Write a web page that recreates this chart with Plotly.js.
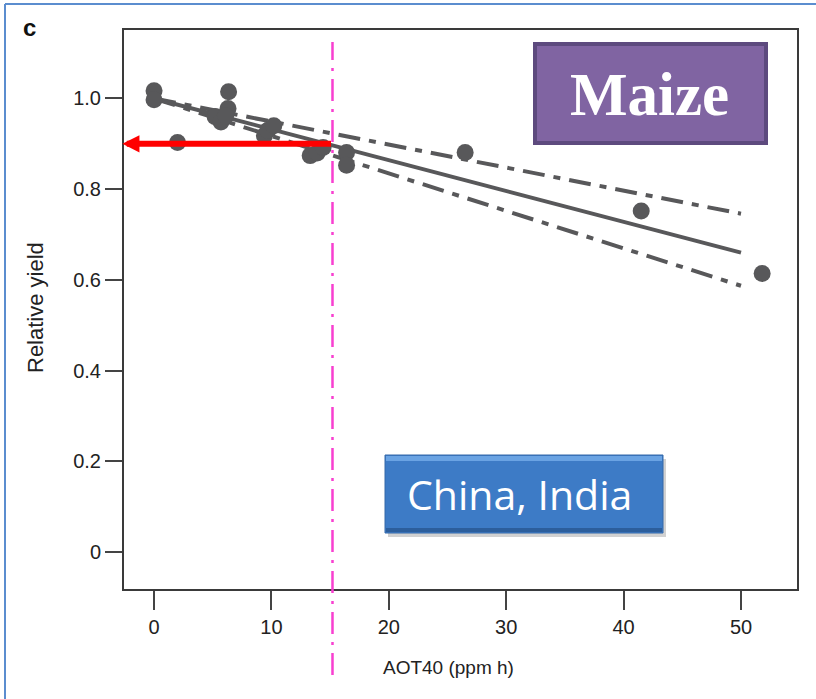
<!DOCTYPE html>
<html>
<head>
<meta charset="utf-8">
<script src="https://cdn.plot.ly/plotly-3.0.1.min.js"></script>
<style>
  html, body { margin: 0; padding: 0; background: #ffffff; }
  #chart { width: 816px; height: 699px; }
</style>
</head>
<body>
<div id="chart"></div>
<script>
// ---- data ----
const obsX = [0, 0, 2.0, 5.2, 5.7, 6.35, 6.3, 6.1, 9.4, 9.7, 10.2, 13.3, 13.9, 14.4, 16.4, 16.4, 26.5, 41.5, 51.8];
const obsY = [1.017, 0.997, 0.903, 0.960, 0.948, 1.015, 0.978, 0.962, 0.918, 0.930, 0.940, 0.874, 0.880, 0.892, 0.881, 0.853, 0.881, 0.752, 0.614];

const fitX   = [0, 50];
const fitY   = [1.0, 0.660];
const upperY = [1.0, 0.746];
const lowerY = [1.0, 0.587];

const thresholdX = 15.2;   // AOT40 threshold (magenta line)
const thresholdY = 0.9;    // relative yield at threshold (red arrow)

const xTickVals = [0, 10, 20, 30, 40, 50];
const yTickVals = [0, 0.2, 0.4, 0.6, 0.8, 1.0];
const yTickText = ['0', '0.2', '0.4', '0.6', '0.8', '1.0'];

const panelLabel = 'c';
const cropLabel = 'Maize';
const regionLabel = 'China, India';
const xTitle = 'AOT40 (ppm h)';
const yTitle = 'Relative yield';

// ---- geometry helpers (page pixels -> paper fraction) ----
const PL = 124, PR = 797, PT = 30, PB = 589;
const PW = PR - PL, PH = PB - PT;
const px = x => (x - PL) / PW;
const py = y => (PB - y) / PH;

const grey = '#58585a';
const FONT = '"Liberation Sans", Arial, Helvetica, sans-serif';

const traces = [
  { x: fitX, y: upperY, mode: 'lines', line: { color: grey, width: 4, dash: '22px,9px,7px,9px' }, hoverinfo: 'skip' },
  { x: fitX, y: lowerY, mode: 'lines', line: { color: grey, width: 4, dash: '22px,9px,7px,9px' }, hoverinfo: 'skip' },
  { x: fitX, y: fitY, mode: 'lines', line: { color: grey, width: 4 }, hoverinfo: 'skip' },
  { x: obsX, y: obsY, mode: 'markers', marker: { color: grey, size: 17, line: { width: 0 } } }
];

const shapes = [
  // outer slide frame (top and left visible)
  { type: 'line', xref: 'paper', yref: 'paper', x0: px(5), x1: px(820), y0: py(4), y1: py(4), line: { color: '#5b8dcf', width: 2 } },
  { type: 'line', xref: 'paper', yref: 'paper', x0: px(5), x1: px(5), y0: py(4), y1: py(703), line: { color: '#5b8dcf', width: 2 } },
  // magenta threshold line
  { type: 'line', xref: 'x', yref: 'paper', x0: thresholdX, x1: thresholdX, y0: py(675), y1: py(42), line: { color: '#f83fd0', width: 2.5, dash: '22px,8px,3px,8px' } },
  // Maize box
  { type: 'rect', xref: 'paper', yref: 'paper', x0: px(535), x1: px(766), y0: py(143), y1: py(44), fillcolor: '#8064a2', line: { color: '#5d4a7e', width: 4 } },
  // China, India box: shadow, body, bevels
  { type: 'rect', xref: 'paper', yref: 'paper', x0: px(388), x1: px(666), y0: py(537), y1: py(459), fillcolor: 'rgba(0,0,0,0.18)', line: { width: 0 } },
  { type: 'rect', xref: 'paper', yref: 'paper', x0: px(385), x1: px(663), y0: py(533), y1: py(455), fillcolor: '#3d7bc6', line: { color: '#3568a8', width: 1 } },
  { type: 'rect', xref: 'paper', yref: 'paper', x0: px(386), x1: px(662), y0: py(461), y1: py(456), fillcolor: '#6aa3e3', line: { width: 0 } },
  { type: 'rect', xref: 'paper', yref: 'paper', x0: px(386), x1: px(662), y0: py(532), y1: py(528), fillcolor: '#2c5e9c', line: { width: 0 } }
];

const annotations = [
  { xref: 'paper', yref: 'paper', x: px(29), y: py(28), text: '<b>' + panelLabel + '</b>', showarrow: false,
    font: { family: FONT, size: 24, color: '#111' }, xanchor: 'center', yanchor: 'middle' },
  { xref: 'paper', yref: 'paper', x: px(649), y: py(95), text: '<b>' + cropLabel + '</b>', showarrow: false,
    font: { family: '"Liberation Serif", "Times New Roman", serif', size: 61, color: '#ffffff' }, xanchor: 'center', yanchor: 'middle' },
  { xref: 'paper', yref: 'paper', x: px(519), y: py(494), text: regionLabel, showarrow: false,
    font: { family: '"Open Sans", "Noto Sans", sans-serif', size: 41, color: '#ffffff' }, xanchor: 'center', yanchor: 'middle' },
  { xref: 'paper', yref: 'paper', x: px(448), y: py(667), text: xTitle, showarrow: false,
    font: { family: FONT, size: 19, color: '#222' }, xanchor: 'center', yanchor: 'middle' },
  { xref: 'paper', yref: 'paper', x: px(35), y: py(308), text: yTitle, showarrow: false, textangle: -90,
    font: { family: FONT, size: 22, color: '#222' }, xanchor: 'center', yanchor: 'middle' },
  // red arrow from threshold to yield axis
  { xref: 'x', yref: 'y', x: -2.7, y: thresholdY, axref: 'x', ayref: 'y', ax: thresholdX, ay: thresholdY,
    text: '', showarrow: true, arrowhead: 2, arrowsize: 0.57, arrowwidth: 6, arrowcolor: '#ff0000', standoff: 0 }
];

const layout = {
  width: 816, height: 699,
  margin: { l: PL, r: 816 - PR, t: PT, b: 699 - PB, pad: 0 },
  paper_bgcolor: '#ffffff', plot_bgcolor: '#ffffff',
  showlegend: false,
  xaxis: {
    range: [-2.56, 54.77], tickvals: xTickVals, ticks: 'outside', ticklen: 19, tickwidth: 2, tickcolor: '#444',
    showline: true, linecolor: '#3a3a3a', linewidth: 2, mirror: true, showgrid: false, zeroline: false,
    tickfont: { family: FONT, size: 20, color: '#222' }
  },
  yaxis: {
    range: [-0.0816, 1.151], tickvals: yTickVals, ticktext: yTickText, ticks: 'outside', ticklen: 17, tickwidth: 2, tickcolor: '#444',
    showline: true, linecolor: '#3a3a3a', linewidth: 2, mirror: true, showgrid: false, zeroline: false,
    tickfont: { family: FONT, size: 20, color: '#222' }
  },
  shapes: shapes,
  annotations: annotations
};

Plotly.newPlot('chart', traces, layout, { staticPlot: true, displayModeBar: false });
</script>
</body>
</html>
